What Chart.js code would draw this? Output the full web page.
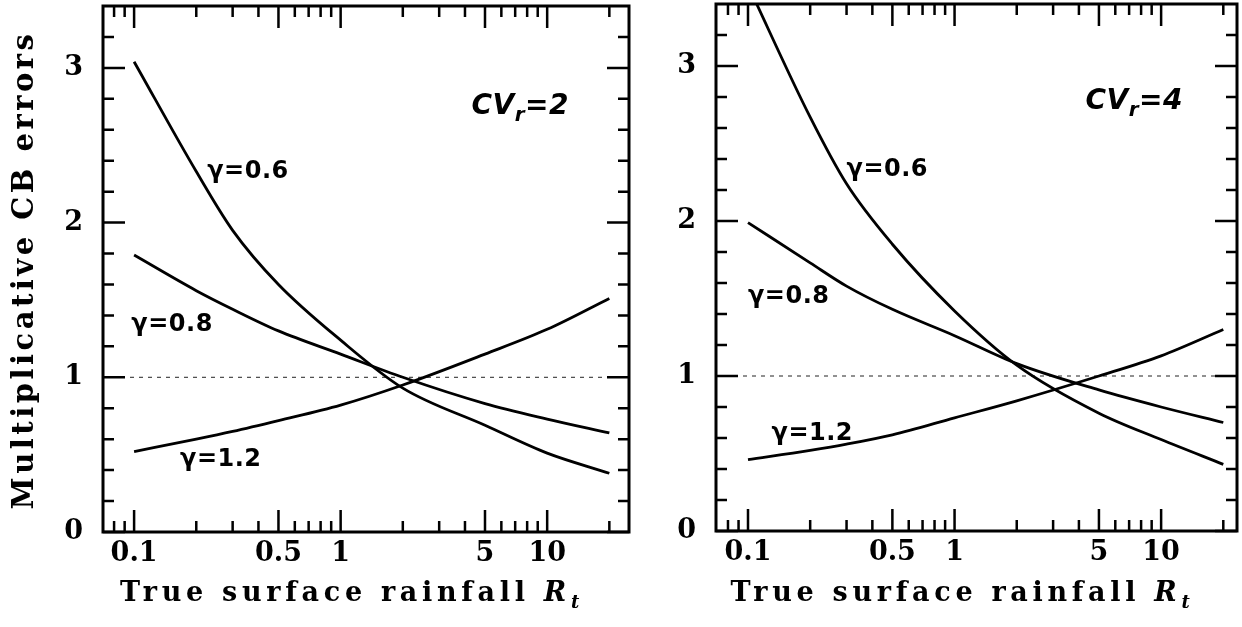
<!DOCTYPE html>
<html>
<head>
<meta charset="utf-8">
<script src="https://cdn.jsdelivr.net/npm/chart.js@4.4.0/dist/chart.umd.min.js"></script>
<style>
body { margin: 0; background: #fff; }
#wrap { position: relative; width: 1242px; height: 627px; }
.box { position: absolute; top: 0; height: 627px; }
</style>
</head>
<body>
<div id="wrap">
  <div class="box" style="left:0;width:640px"><canvas id="leftChart" width="640" height="627"></canvas></div>
  <div class="box" style="left:640px;width:602px"><canvas id="rightChart" width="602" height="627"></canvas></div>
</div>
<script>
// true surface rainfall R_t (x) and multiplicative CB error (y)
var rainfall = [0.1, 0.2, 0.3, 0.5, 1, 2, 5, 10, 20];
var cv2Gamma06 = [3.04, 2.33, 1.95, 1.60, 1.24, 0.93, 0.69, 0.51, 0.38];
var cv2Gamma08 = [1.79, 1.56, 1.44, 1.30, 1.15, 1.00, 0.83, 0.73, 0.64];
var cv2Gamma12 = [0.52, 0.60, 0.65, 0.72, 0.82, 0.95, 1.15, 1.31, 1.51];
var cv4Gamma06 = [3.52, 2.67, 2.24, 1.85, 1.42, 1.07, 0.76, 0.59, 0.43];
var cv4Gamma08 = [1.99, 1.73, 1.58, 1.43, 1.26, 1.08, 0.91, 0.80, 0.70];
var cv4Gamma12 = [0.46, 0.52, 0.56, 0.62, 0.73, 0.84, 1.00, 1.13, 1.30];

var xTickLabels = [0.1, 0.5, 1, 5, 10];
var xMinorTicks = [0.08, 0.09, 0.2, 0.3, 0.4, 0.6, 0.7, 0.8, 0.9, 2, 3, 4, 6, 7, 8, 9, 20];
var yTickLabels = [0, 1, 2, 3];
var yMinorTicks = [0.2, 0.4, 0.6, 0.8, 1.2, 1.4, 1.6, 1.8, 2.2, 2.4, 2.6, 2.8, 3.2];
var unityLine = [1, 1];

var serif = "'DejaVu Serif', serif";
var sans = "'DejaVu Sans', sans-serif";

function toPoints(xs, ys) {
    var pts = [];
    for (var i = 0; i < xs.length; i++) {
        pts.push({x: xs[i], y: ys[i]});
    }
    return pts;
}

function drawRuns(ctx, runs, x, y) {
    runs.forEach(function (r) {
        ctx.font = r.font;
        ctx.fillText(r.text, x, y + (r.dy || 0));
        x += ctx.measureText(r.text).width;
    });
}

function runsWidth(ctx, runs) {
    var w = 0;
    runs.forEach(function (r) {
        ctx.font = r.font;
        w += ctx.measureText(r.text).width;
    });
    return w;
}

// frame, inward ticks on all four sides, curve labels and axis titles
var framePlugin = {
    id: 'frameTicks',
    afterDatasetsDraw: function (chart, args, opts) {
        var ctx = chart.ctx, a = chart.chartArea;
        var xs = chart.scales.x, ys = chart.scales.y;
        ctx.save();
        ctx.strokeStyle = '#000';
        ctx.lineCap = 'butt';

        ctx.lineWidth = 2.5;
        ctx.beginPath();
        function xTick(v, len) {
            var px = xs.getPixelForValue(v);
            ctx.moveTo(px, a.bottom); ctx.lineTo(px, a.bottom - len);
            ctx.moveTo(px, a.top); ctx.lineTo(px, a.top + len);
        }
        function yTick(v, len) {
            var py = ys.getPixelForValue(v);
            ctx.moveTo(a.left, py); ctx.lineTo(a.left + len, py);
            ctx.moveTo(a.right, py); ctx.lineTo(a.right - len, py);
        }
        xMinorTicks.forEach(function (v) { xTick(v, 11); });
        xTickLabels.forEach(function (v) { xTick(v, 22); });
        yMinorTicks.forEach(function (v) { yTick(v, 11); });
        yTickLabels.forEach(function (v) { yTick(v, 22); });
        ctx.stroke();

        ctx.lineWidth = 3;
        ctx.strokeRect(a.left, a.top, a.right - a.left, a.bottom - a.top);

        ctx.fillStyle = '#000';
        ctx.textBaseline = 'middle';
        ctx.textAlign = 'left';
        ctx.letterSpacing = '0.5px';
        opts.labels.forEach(function (lab) {
            var px = xs.getPixelForValue(lab.x), py = ys.getPixelForValue(lab.y);
            ctx.font = 'bold 24px ' + sans;
            ctx.fillText(lab.text, px, py);
        });

        var cvRuns = [
            {text: 'CV', font: 'italic bold 28px ' + sans},
            {text: 'r', font: 'italic bold 20px ' + sans, dy: 9},
            {text: '=' + opts.cv, font: 'italic bold 28px ' + sans}
        ];
        ctx.letterSpacing = '0.5px';
        drawRuns(ctx, cvRuns, xs.getPixelForValue(opts.cvPos.x), ys.getPixelForValue(opts.cvPos.y));

        // x title
        ctx.letterSpacing = '4.7px';
        ctx.textBaseline = 'alphabetic';
        var titleRuns = [
            {text: 'True surface rainfall ', font: 'bold 27px ' + serif},
            {text: 'R', font: 'italic bold 27px ' + serif},
            {text: 't', font: 'italic bold 18px ' + serif, dy: 7}
        ];
        var tw = runsWidth(ctx, titleRuns);
        drawRuns(ctx, titleRuns, (a.left + a.right) / 2 - tw / 2 - 14, 601);

        if (opts.yTitle) {
            ctx.save();
            ctx.translate(25, 270);
            ctx.rotate(-Math.PI / 2);
            ctx.textAlign = 'center';
            ctx.textBaseline = 'middle';
            ctx.font = 'bold 29px ' + serif;
            ctx.letterSpacing = '3.5px';
            ctx.fillText(opts.yTitle, 0, 0);
            ctx.restore();
        }
        ctx.restore();
    }
};

function makeChart(id, series, cfg) {
    var datasets = series.map(function (s) {
        return {
            data: toPoints(rainfall, s),
            showLine: true,
            borderColor: '#000',
            borderWidth: 2.8,
            pointRadius: 0,
            cubicInterpolationMode: 'monotone',
            fill: false
        };
    });
    datasets.push({
        data: toPoints([cfg.xMin, cfg.xMax], unityLine),
        showLine: true,
        borderColor: '#222',
        borderWidth: 1,
        borderDash: [4, 5],
        pointRadius: 0
    });
    return new Chart(document.getElementById(id), {
        type: 'scatter',
        data: {datasets: datasets},
        plugins: [framePlugin],
        options: {
            responsive: false,
            animation: false,
            events: [],
            layout: {padding: {top: cfg.top, right: cfg.right, left: 0, bottom: 0}},
            plugins: {
                legend: {display: false},
                tooltip: {enabled: false},
                frameTicks: {
                    labels: cfg.labels,
                    cv: cfg.cv,
                    cvPos: cfg.cvPos,
                    yTitle: cfg.yTitle
                }
            },
            scales: {
                x: {
                    type: 'logarithmic',
                    min: cfg.xMin,
                    max: cfg.xMax,
                    grid: {display: false, drawTicks: false},
                    border: {display: false},
                    afterBuildTicks: function (axis) {
                        axis.ticks = xTickLabels.map(function (v) { return {value: v}; });
                    },
                    afterFit: function (axis) {
                        axis.height = cfg.xHeight;
                        axis.paddingLeft = 0;
                        axis.paddingRight = 0;
                    },
                    ticks: {
                        autoSkip: false,
                        maxRotation: 0,
                        padding: 6,
                        color: '#000',
                        font: {family: serif, size: 27, weight: 'bold'},
                        callback: function (v) { return String(v); }
                    }
                },
                y: {
                    min: 0,
                    max: 3.4,
                    grid: {display: false, drawTicks: false},
                    border: {display: false},
                    afterBuildTicks: function (axis) {
                        axis.ticks = yTickLabels.map(function (v) { return {value: v}; });
                    },
                    afterFit: function (axis) {
                        axis.width = cfg.yWidth;
                        axis.paddingTop = 0;
                        axis.paddingBottom = 0;
                    },
                    ticks: {
                        padding: 20,
                        color: '#000',
                        font: {family: serif, size: 27, weight: 'bold'},
                        callback: function (v) { return String(v); }
                    }
                }
            }
        }
    });
}

makeChart('leftChart', [cv2Gamma06, cv2Gamma08, cv2Gamma12], {
    xMin: 0.0707, xMax: 24.9, top: 6, right: 11, yWidth: 103, xHeight: 95,
    cv: '2', cvPos: {x: 4.3, y: 2.75},
    yTitle: 'Multiplicative CB errors',
    labels: [
        {text: '\u03b3=0.6', x: 0.226, y: 2.33},
        {text: '\u03b3=0.8', x: 0.097, y: 1.34},
        {text: '\u03b3=1.2', x: 0.167, y: 0.47}
    ]
});

makeChart('rightChart', [cv4Gamma06, cv4Gamma08, cv4Gamma12], {
    xMin: 0.07, xMax: 23.3, top: 4, right: 5, yWidth: 76, xHeight: 96,
    cv: '4', cvPos: {x: 4.3, y: 2.77},
    yTitle: null,
    labels: [
        {text: '\u03b3=0.6', x: 0.30, y: 2.33},
        {text: '\u03b3=0.8', x: 0.1, y: 1.51},
        {text: '\u03b3=1.2', x: 0.13, y: 0.63}
    ]
});
</script>
</body>
</html>
